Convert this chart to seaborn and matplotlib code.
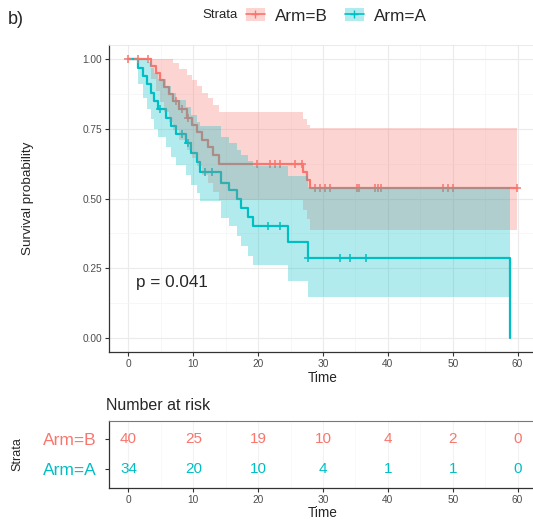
import numpy as np
import pandas as pd
import matplotlib
matplotlib.use("Agg")
import matplotlib.pyplot as plt
import seaborn as sns
from matplotlib.lines import Line2D
from matplotlib.patches import Patch

# ---- Kaplan-Meier estimates per arm (step times, survival, 95% CI) ----
arms = ["Arm=B", "Arm=A"]
colors = {"Arm=B": "#F8766D", "Arm=A": "#00BFC4"}

time_b = [0, 3.5, 4.2, 4.8, 5.5, 6.2, 6.8, 7.8, 9.0, 9.8, 10.6, 11.4, 12.2, 13.0,
          13.9, 26.9, 27.5, 28.0, 59.9]
surv_b = [1.0, 0.975, 0.95, 0.925, 0.90, 0.875, 0.85, 0.82, 0.79, 0.765, 0.74, 0.71,
          0.685, 0.655, 0.625, 0.595, 0.565, 0.537, 0.537]
upper_b = [1.0, 1.0, 1.0, 1.0, 1.0, 1.0, 0.985, 0.965, 0.945, 0.925, 0.905, 0.88,
           0.86, 0.835, 0.81, 0.785, 0.765, 0.752, 0.752]
lower_b = [1.0, 0.93, 0.885, 0.845, 0.81, 0.775, 0.745, 0.71, 0.675, 0.645, 0.615,
           0.585, 0.555, 0.525, 0.495, 0.46, 0.425, 0.387, 0.387]
censor_b = [0, 1.5, 3.0, 7.4, 8.2, 9.2, 19.8, 21.8, 22.6, 23.4, 25.7, 26.7, 28.7,
            29.5, 30.3, 31.1, 35.2, 35.5, 38.0, 38.5, 39.0, 48.5, 49.3, 50.1, 59.9]

time_a = [0, 1.5, 2.2, 2.8, 3.4, 4.0, 4.6, 5.8, 6.6, 7.4, 8.8, 9.6, 10.6, 11.0,
          14.3, 15.5, 16.7, 17.4, 18.4, 19.2, 24.6, 27.7, 58.8]
surv_a = [1.0, 0.97, 0.94, 0.91, 0.88, 0.85, 0.82, 0.79, 0.76, 0.73, 0.70, 0.665,
          0.63, 0.595, 0.555, 0.53, 0.50, 0.465, 0.435, 0.40, 0.345, 0.286, 0.0]
upper_a = [1.0, 1.0, 1.0, 0.99, 0.97, 0.95, 0.93, 0.905, 0.88, 0.855, 0.83, 0.80,
           0.775, 0.76, 0.72, 0.70, 0.675, 0.655, 0.635, 0.615, 0.58, 0.54, 0.54]
lower_a = [1.0, 0.91, 0.86, 0.82, 0.785, 0.75, 0.72, 0.685, 0.65, 0.62, 0.585,
           0.55, 0.52, 0.49, 0.43, 0.40, 0.365, 0.33, 0.295, 0.26, 0.205, 0.147,
           0.147]
censor_a = [4.8, 8.2, 9.2, 11.8, 12.9, 21.5, 23.4, 27.7, 32.6, 34.2, 36.7]

p_value = "p = 0.041"

# ---- number at risk ----
risk_times = [0, 10, 20, 30, 40, 50, 60]
risk_b = [40, 25, 19, 10, 4, 2, 0]
risk_a = [34, 20, 10, 4, 1, 1, 0]

curves = {
    "Arm=B": (time_b, surv_b, lower_b, upper_b, censor_b),
    "Arm=A": (time_a, surv_a, lower_a, upper_a, censor_a),
}
risk = {"Arm=B": risk_b, "Arm=A": risk_a}

sns.set_theme(style="white")
plt.rcParams["font.family"] = ["Liberation Sans", "DejaVu Sans"]

W, H = 533, 523
fig = plt.figure(figsize=(W / 100, H / 100), dpi=100)


def fx(px):
    return px / W


def fy(py):
    return 1 - py / H


XLIM = (-3, 63)
dark = "#333333"
tick_col = "#4D4D4D"

# ---------------- survival panel ----------------
ax = fig.add_axes([fx(109), fy(351.6), fx(428), 306.2 / H])

lines = pd.concat(
    [pd.DataFrame({"time": c[0], "surv": c[1], "arm": a}) for a, c in curves.items()],
    ignore_index=True,
)
sns.lineplot(data=lines, x="time", y="surv", hue="arm", palette=colors,
             drawstyle="steps-post", estimator=None, sort=False, legend=False,
             lw=1.6, zorder=2, ax=ax)

for arm, (t, s, lo, hi, cens) in curves.items():
    cens_y = np.asarray(s)[np.searchsorted(t, cens, side="right") - 1]
    sns.scatterplot(x=cens, y=cens_y, marker="+", s=40, color=colors[arm],
                    linewidth=1.1, zorder=2, ax=ax)
    ax.fill_between(t, lo, hi, step="post", color=colors[arm], alpha=0.3,
                    lw=0, zorder=3)

ax.text(1.2, 0.20, p_value, fontsize=12.3, ha="left", va="center", zorder=5)

ax.set_xlim(*XLIM)
ax.set_ylim(-0.05, 1.05)
ax.set_xticks(risk_times)
ax.set_xticks(np.arange(5, 60, 10), minor=True)
ax.set_yticks([0, 0.25, 0.5, 0.75, 1.0])
ax.set_yticklabels(["0.00", "0.25", "0.50", "0.75", "1.00"])
ax.set_yticks([0.125, 0.375, 0.625, 0.875], minor=True)
ax.set_axisbelow(True)
ax.grid(which="major", color="#EBEBEB", lw=0.8)
ax.grid(which="minor", color="#F4F4F4", lw=0.5)
ax.tick_params(which="major", length=3, width=0.8, color=dark, labelcolor=tick_col,
               labelsize=7.3, pad=2, left=True, bottom=True)
ax.tick_params(which="minor", length=0)
for side in ("left", "bottom"):
    ax.spines[side].set_color(dark)
    ax.spines[side].set_linewidth(0.9)
for side in ("top", "right"):
    ax.spines[side].set_color("#E6E6E6")
    ax.spines[side].set_linewidth(0.6)
ax.set_xlabel("Time", fontsize=9.8, labelpad=2)
ax.set_ylabel("Survival probability", fontsize=9.7)
ax.yaxis.set_label_coords(-0.175, 0.5)

# ---------------- legend ----------------
fig.text(fx(202), fy(15), "Strata", fontsize=9.5, ha="left", va="center")
handles = [
    (Patch(facecolor=colors[a], alpha=0.3, edgecolor="none"),
     Line2D([], [], color=colors[a], lw=1.2, marker="+", markersize=6))
    for a in arms
]
fig.legend(handles, arms, loc="center left", bbox_to_anchor=(fx(246), fy(16)),
           ncol=2, frameon=False, fontsize=12.3, handlelength=1.1,
           handleheight=0.75, handletextpad=0.6, columnspacing=1.0,
           borderpad=0, borderaxespad=0)

fig.text(0.015, fy(20), "b)", fontsize=13, ha="left", va="center")

# ---------------- risk table ----------------
fig.text(fx(106), fy(405.6), "Number at risk", fontsize=11.5, ha="left", va="center")
ax2 = fig.add_axes([fx(109), fy(487.6), fx(428), 66.6 / H])
row = {"Arm=B": 2, "Arm=A": 1}
for arm in arms:
    for t, n in zip(risk_times, risk[arm]):
        ax2.text(t, row[arm], str(n), color=colors[arm], fontsize=11,
                 ha="center", va="center")
ax2.set_xlim(*XLIM)
ax2.set_ylim(0.4, 2.6)
ax2.set_xticks(risk_times)
ax2.set_xticks(np.arange(5, 60, 10), minor=True)
ax2.set_yticks([row[a] for a in arms])
ax2.set_yticklabels(arms)
for lab, arm in zip(ax2.get_yticklabels(), arms):
    lab.set_color(colors[arm])
ax2.set_axisbelow(True)
ax2.grid(which="major", axis="x", color="#F2F2F2", lw=0.8)
ax2.grid(which="minor", axis="x", color="#F7F7F7", lw=0.5)
ax2.tick_params(axis="x", which="major", length=3, width=0.8, color=dark,
                labelcolor=tick_col, labelsize=7.3, pad=2, bottom=True)
ax2.tick_params(axis="y", which="major", length=3, width=0.8, color=dark,
                labelsize=12.5, pad=6, left=True)
ax2.tick_params(which="minor", length=0)
for side in ("left", "bottom"):
    ax2.spines[side].set_color(dark)
    ax2.spines[side].set_linewidth(0.9)
for side in ("top", "right"):
    ax2.spines[side].set_color("#777777")
    ax2.spines[side].set_linewidth(0.8)
ax2.set_xlabel("Time", fontsize=9.8, labelpad=1)
ax2.set_ylabel("Strata", fontsize=9)
ax2.yaxis.set_label_coords(-0.2, 0.5)

fig.savefig("out.png", dpi=100)
